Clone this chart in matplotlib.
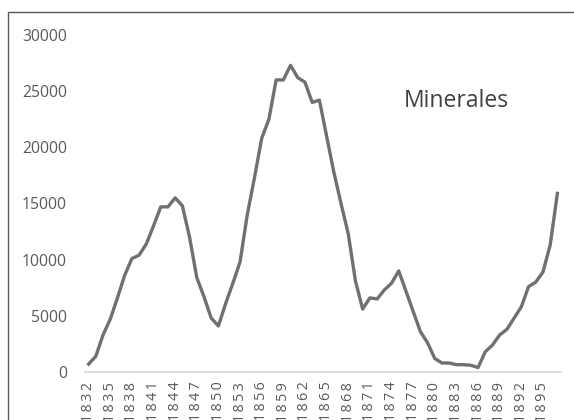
import matplotlib
matplotlib.use("Agg")
import matplotlib.pyplot as plt
from matplotlib.patches import Rectangle

years = list(range(1832, 1898))
values = [700, 1400, 3300, 4700, 6600, 8600, 10100, 10400, 11400, 13000,
          14700, 14700, 15500, 14800, 12000, 8400, 6700, 4800, 4100, 6100,
          7900, 9800, 14000, 17300, 20800, 22500, 26000, 26000, 27300, 26200,
          25800, 24000, 24200, 21000, 17800, 15000, 12300, 8100, 5600, 6600,
          6500, 7300, 7900, 9000, 7200, 5400, 3600, 2600, 1200, 800,
          800, 650, 650, 600, 400, 1800, 2400, 3300, 3800, 4800,
          5800, 7600, 8000, 8900, 11300, 15900]
tick_years = list(range(1832, 1898, 3))
yticks = [0, 5000, 10000, 15000, 20000, 25000, 30000]
series_label = "Minerales"

plt.rcParams['font.family'] = ['Open Sans', 'DejaVu Sans']

fig = plt.figure(figsize=(5.74, 4.20), dpi=100)
fig.patch.set_facecolor('white')

# outer chart border
fig.patches.append(Rectangle((8/574, -0.2), 1.2, 1 - 12/420 + 0.2,
                             transform=fig.transFigure, fill=False,
                             edgecolor='#595959', linewidth=1.0))

ax = fig.add_axes([85/574, (420-372)/420, 476/574, 337/420])
ax.plot(years, values, color='#707070', linewidth=2.4, solid_joinstyle='round')
ax.set_xlim(1831.5, 1897.5)
ax.set_ylim(0, 30000)
ax.set_yticks(yticks)
ax.set_yticklabels([str(v) for v in yticks])
ax.set_xticks(tick_years)
ax.set_xticklabels(["\u2009".join(str(y)) for y in tick_years], rotation=90,
                   va='top', ha='center')
for s in ['top', 'right', 'left']:
    ax.spines[s].set_visible(False)
ax.spines['bottom'].set_color('#d9d9d9')
ax.spines['bottom'].set_linewidth(1.3)
ax.tick_params(axis='both', length=0, colors='#595959')
ax.tick_params(axis='y', pad=13, labelsize=11.3)
ax.tick_params(axis='x', pad=7, labelsize=10.3)
ax.set_facecolor('none')

ax.text(0.781, 0.804, series_label, transform=ax.transAxes, ha='center',
        va='center', fontsize=16.5, color='#404040')

fig.savefig('out.png', dpi=100, facecolor='white')
